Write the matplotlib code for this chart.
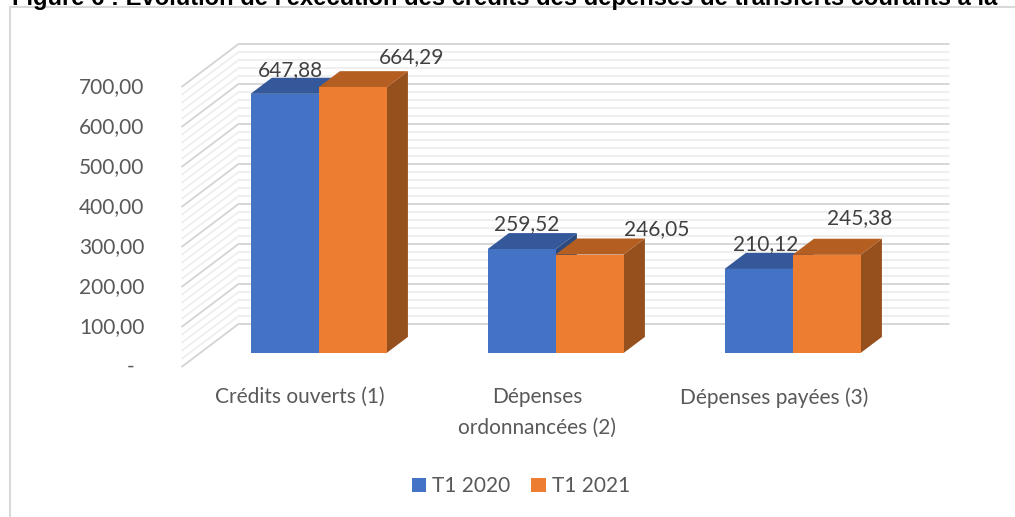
import matplotlib
matplotlib.use("Agg")
import matplotlib.pyplot as plt
from matplotlib.patches import Polygon, Patch
from matplotlib.lines import Line2D

# ---- data ----
categories = ["Crédits ouverts (1)", "Dépenses\nordonnancées (2)", "Dépenses payées (3)"]
series_names = ["T1 2020", "T1 2021"]
values_2020 = [647.88, 259.52, 210.12]
values_2021 = [664.29, 246.05, 245.38]
value_labels_2020 = ["647,88", "259,52", "210,12"]
value_labels_2021 = ["664,29", "246,05", "245,38"]
tick_values = [0, 100, 200, 300, 400, 500, 600, 700]
tick_labels = ["-", "100,00", "200,00", "300,00", "400,00", "500,00", "600,00", "700,00"]
title = "Figure 6 : Évolution de l'exécution des crédits des dépenses de transferts courants à la"

# ---- styling ----
W, H = 1015, 517
TXT = "#595959"
LBL = "#404040"
FONT = "Lato"
FS = 15
front_cols = ["#4472C4", "#ED7D31"]
top_cols = ["#34589A", "#B45E22"]
side_cols = ["#2B4A80", "#96501D"]
MAJOR = "#D6D6D6"
MINOR = "#EFEFEF"

# oblique projection: full depth of the box shifts x and y by these amounts
DX = 0.2405          # in category units
DY = 107.5           # in value units
D0, D1 = 0.326, 0.70 # depth range of the bars
BW = 0.287           # width of one bar
X_LEFT, X_RIGHT = -0.5, 2.5
VMAX = 700


def proj(x, v, d):
    return (x + d * DX, v + d * DY)


fig = plt.figure(figsize=(W / 100, H / 100), dpi=100)
ax = fig.add_axes([0, 0, 1, 1])
ax.set_xlim(-300 / 237, (W - 300) / 237)
ax.set_ylim((367 - H) / 0.4, 367 / 0.4)
ax.axis("off")

# back wall and side wall grid
for v in range(0, VMAX + 1, 20):
    major = v % 100 == 0
    col = MAJOR if major else MINOR
    z = 2 if major else 1
    xa, ya = proj(X_LEFT, v, 0)
    xb, yb = proj(X_LEFT, v, 1)
    xc, yc = proj(X_RIGHT, v, 1)
    ax.plot([xa, xb, xc], [ya, yb, yc], color=col, lw=1.4, zorder=z,
            solid_capstyle="butt")

# bars
offsets = [[(-5, 16), (-6, 17), (-4, 17)], [(48, 22), (56, 17), (22, 29)]]
series = [values_2020, values_2021]
labels = [value_labels_2020, value_labels_2021]
z = 10
for i in range(len(categories)):
    for s in range(2):
        val = series[s][i]
        x0 = i - BW if s == 0 else i
        x1 = x0 + BW
        front = [proj(x0, 0, D0), proj(x1, 0, D0), proj(x1, val, D0), proj(x0, val, D0)]
        top = [proj(x0, val, D0), proj(x1, val, D0), proj(x1, val, D1), proj(x0, val, D1)]
        side = [proj(x1, 0, D0), proj(x1, 0, D1), proj(x1, val, D1), proj(x1, val, D0)]
        ax.add_patch(Polygon(side, closed=True, fc=side_cols[s], ec="none", zorder=z))
        ax.add_patch(Polygon(top, closed=True, fc=top_cols[s], ec="none", zorder=z + 1))
        ax.add_patch(Polygon(front, closed=True, fc=front_cols[s], ec="none", zorder=z + 2))
        z += 3

# value labels
for s in range(2):
    for i in range(len(categories)):
        val = series[s][i]
        xc = i - BW / 2 if s == 0 else i + BW / 2
        anchor = proj(xc, val, (D0 + D1) / 2)
        ax.annotate(labels[s][i], xy=anchor, xytext=offsets[s][i],
                    textcoords="offset pixels", ha="center", va="center",
                    fontsize=FS, family=FONT, color=LBL, zorder=50)

# value axis labels
for v, t in zip(tick_values, tick_labels):
    p = proj(X_LEFT, v, 0)
    dx = -37 if t != "-" else -51
    ax.annotate(t, xy=p, xytext=(dx, 0), textcoords="offset pixels",
                ha="right" if t != "-" else "center", va="center",
                fontsize=FS, family=FONT, color=TXT)

# category labels
for i, c in enumerate(categories):
    p = proj(i, 0, 0)
    ax.annotate(c, xy=p, xytext=(0, -20), textcoords="offset pixels",
                ha="center", va="top", fontsize=FS, family=FONT, color=TXT,
                linespacing=1.65)

# legend
handles = [Patch(fc=front_cols[k], ec="none") for k in range(2)]
leg = fig.legend(handles, series_names, loc="center", bbox_to_anchor=(521 / W, 1 - 486 / H),
                 ncol=2, frameon=False, handlelength=0.68, handleheight=0.68,
                 handletextpad=0.3, columnspacing=1.0,
                 prop={"family": FONT, "size": FS})
for t in leg.get_texts():
    t.set_color(TXT)

# chart frame
fig.add_artist(Line2D([10 / W, 10 / W], [0, 1 - 7 / H], color="#D9D9D9", lw=1.5,
                      transform=fig.transFigure))
fig.add_artist(Line2D([10 / W, 1], [1 - 7 / H, 1 - 7 / H], color="#D9D9D9", lw=1.5,
                      transform=fig.transFigure))

# title, sized to span the page width
ttl = fig.text(12 / W, 1 - 5 / H, title, ha="left", va="baseline",
               fontsize=15, fontweight="bold", family="Liberation Sans", color="black")
fig.canvas.draw()
wid = ttl.get_window_extent(fig.canvas.get_renderer()).width
ttl.set_fontsize(15 * 991 / wid)

fig.savefig("out.png", dpi=100)
